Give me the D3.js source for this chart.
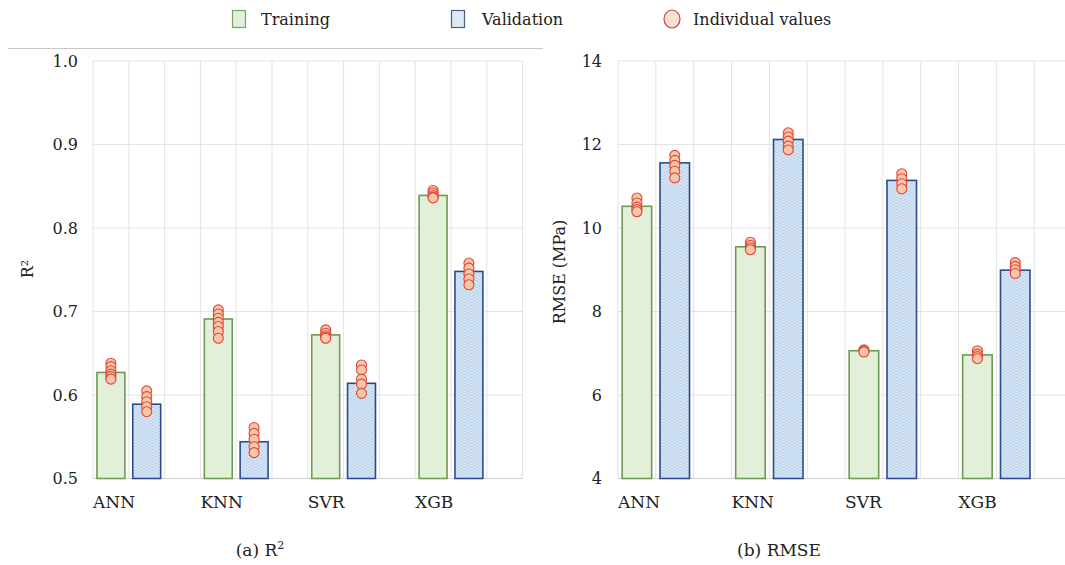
<!DOCTYPE html>
<html><head><meta charset="utf-8">
<script src="https://cdn.jsdelivr.net/npm/d3@7"></script>
<style>body{margin:0;background:#fff}svg{display:block}text{font-family:"DejaVu Serif","Liberation Serif",serif;fill:#222}</style>
</head><body>
<svg id="c" width="1065" height="565"></svg>
<script>
const categories = ["ANN","KNN","SVR","XGB"];
const r2Train = [0.627, 0.691, 0.672, 0.839];
const r2Val = [0.589, 0.544, 0.614, 0.748];
const r2TrainInd = [[0.638,0.634,0.629,0.625,0.622,0.619],[0.702,0.697,0.692,0.687,0.682,0.676,0.668],[0.678,0.674,0.671,0.669,0.668],[0.845,0.842,0.839,0.837,0.836]];
const r2ValInd = [[0.605,0.598,0.592,0.586,0.580],[0.561,0.554,0.547,0.538,0.531],[0.636,0.630,0.619,0.613,0.602],[0.758,0.752,0.745,0.739,0.732]];
const r2Ticks = [0.5,0.6,0.7,0.8,0.9,1.0];
const rmseTrain = [10.52, 9.55, 7.06, 6.96];
const rmseVal = [11.56, 12.12, 11.14, 8.99];
const rmseTrainInd = [[10.72,10.6,10.5,10.44,10.39],[9.66,9.58,9.52,9.48],[7.08,7.05,7.03],[7.06,6.98,6.92,6.87]];
const rmseValInd = [[11.74,11.62,11.5,11.36,11.2],[12.28,12.18,12.08,11.96,11.87],[11.3,11.18,11.06,10.94],[9.17,9.08,9.0,8.91]];
const rmseTicks = [4,6,8,10,12,14];

const svg = d3.select("#c");
const defs = svg.append("defs");
const pat = defs.append("pattern").attr("id","weave").attr("patternUnits","userSpaceOnUse").attr("width",6).attr("height",6);
pat.append("rect").attr("width",6).attr("height",6).attr("fill","#d4e4f5");
pat.append("path").attr("d","M0,0 L3,3 L6,0 M0,3 L3,6 L6,3").attr("fill","none").attr("stroke","#b6cfea").attr("stroke-width",0.9);

const trainFill = "#e2efd9", trainStroke = "#6f9a52";
const valStroke = "#2d4b8c";
const dotFill = "#f8c6a8", dotStroke = "#e0453a";

function panel(opt){
  const x = d3.scaleLinear().domain([0,12]).range([opt.x0, opt.x1]);
  const y = d3.scaleLinear().domain(opt.domain).range([478.5, 61]);
  const g = svg.append("g");
  g.append("g").selectAll("line").data(d3.range(0,13)).join("line")
    .attr("x1",d=>x(d)).attr("x2",d=>x(d)).attr("y1",y(opt.domain[0])).attr("y2",y(opt.domain[1]))
    .attr("stroke","#e3e3e3").attr("stroke-width",1);
  g.append("g").selectAll("line").data(opt.ticks).join("line")
    .attr("x1",x(0)).attr("x2",x(12)).attr("y1",d=>y(d)).attr("y2",d=>y(d))
    .attr("stroke",(d,i)=>i===0?"#d0d0d0":"#e3e3e3").attr("stroke-width",1);
  g.append("g").selectAll("text").data(opt.ticks).join("text")
    .attr("x",opt.tickX).attr("y",d=>y(d)).attr("dy","0.35em").attr("text-anchor","end")
    .attr("font-size",16).text(d=>opt.fmt(d));
  const yt = g.append("text").attr("transform",`translate(${opt.titleX},${opt.titleY}) rotate(-90)`)
    .attr("text-anchor","middle").attr("font-size",16);
  opt.title(yt);
  const bw = (x(1)-x(0))*0.78;
  const groups = [{vals:opt.train, ind:opt.trainInd, off:0.5, fill:trainFill, stroke:trainStroke},
                  {vals:opt.val, ind:opt.valInd, off:1.5, fill:"url(#weave)", stroke:valStroke}];
  groups.forEach(s=>{
    g.append("g").selectAll("rect").data(s.vals).join("rect")
      .attr("x",(d,i)=>x(3*i+s.off)-bw/2).attr("width",bw)
      .attr("y",d=>y(d)).attr("height",d=>y(opt.domain[0])-y(d))
      .attr("fill",s.fill).attr("stroke",s.stroke).attr("stroke-width",1.6);
  });
  groups.forEach(s=>{
    const pts = [];
    s.ind.forEach((arr,i)=>arr.forEach(v=>pts.push({cx:x(3*i+s.off), v})));
    g.append("g").selectAll("circle").data(pts).join("circle")
      .attr("cx",d=>d.cx).attr("cy",d=>y(d.v)).attr("r",5)
      .attr("fill",dotFill).attr("stroke",dotStroke).attr("stroke-width",1.1);
  });
  g.append("g").selectAll("text").data(categories).join("text")
    .attr("x",(d,i)=>x(3*i)).attr("y",508).attr("font-size",17).text(d=>d);
}

svg.append("line").attr("x1",8).attr("x2",543).attr("y1",48.5).attr("y2",48.5).attr("stroke","#c8c8c8").attr("stroke-width",1.2);

panel({x0:93, x1:522.6, domain:[0.5,1.0], ticks:r2Ticks, fmt:d3.format(".1f"), tickX:78,
  titleX:33, titleY:269, title:t=>{t.append("tspan").text("R²");},
  train:r2Train, val:r2Val, trainInd:r2TrainInd, valInd:r2ValInd});
panel({x0:618, x1:1072, domain:[4,14], ticks:rmseTicks, fmt:d3.format("d"), tickX:602,
  titleX:565, titleY:272, title:t=>{t.text("RMSE (MPa)");},
  train:rmseTrain, val:rmseVal, trainInd:rmseTrainInd, valInd:rmseValInd});

const lg = svg.append("g");
lg.append("rect").attr("x",232.5).attr("y",10.5).attr("width",13).attr("height",17).attr("fill","#e2efd9").attr("stroke","#7aa45e").attr("stroke-width",1.2);
lg.append("text").attr("x",261).attr("y",25).attr("font-size",16).text("Training");
lg.append("rect").attr("x",451.5).attr("y",10.5).attr("width",13).attr("height",17).attr("fill","#dde9f6").attr("stroke","#4a5f80").attr("stroke-width",1.2);
lg.append("text").attr("x",482).attr("y",25).attr("font-size",16).text("Validation");
lg.append("ellipse").attr("cx",672).attr("cy",19).attr("rx",8).attr("ry",9).attr("fill","#fbe1d3").attr("stroke","#c8443c").attr("stroke-width",1.2);
lg.append("text").attr("x",693).attr("y",25).attr("font-size",16).text("Individual values");

const ca = svg.append("text").attr("x",260).attr("y",556).attr("text-anchor","middle").attr("font-size",17);
ca.append("tspan").text("(a) R");
ca.append("tspan").attr("dy",-7).attr("font-size",11).text("2");
svg.append("text").attr("x",779).attr("y",556).attr("text-anchor","middle").attr("font-size",17).text("(b) RMSE");
</script>
</body></html>
